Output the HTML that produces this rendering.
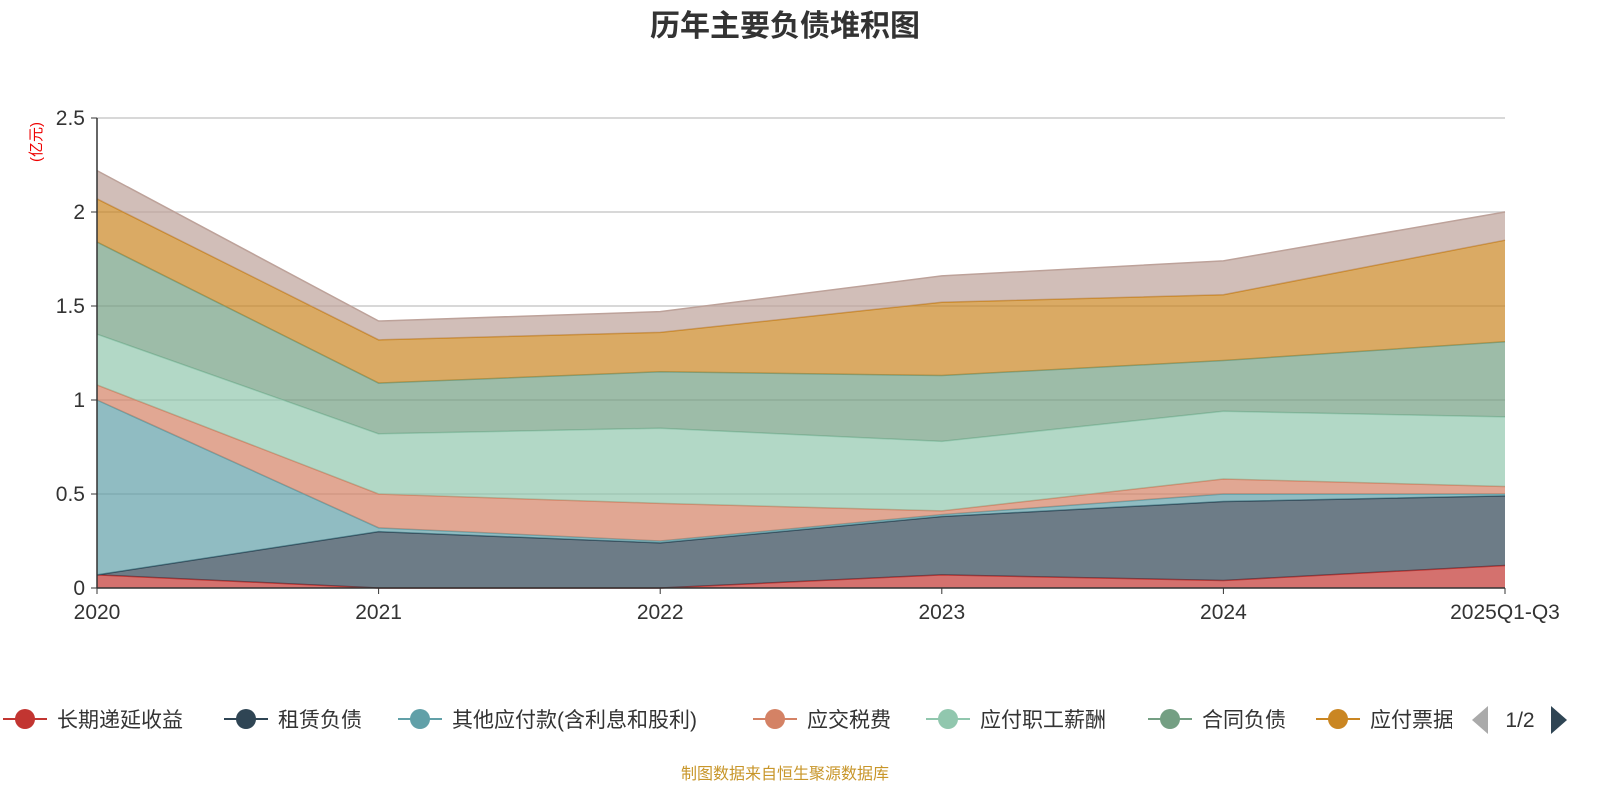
<!DOCTYPE html>
<html><head><meta charset="utf-8"><style>
body{margin:0;background:#fff;width:1600px;height:800px;overflow:hidden;font-family:"Liberation Sans","Noto Sans CJK SC",sans-serif;}
</style></head><body>
<svg id="c" width="1600" height="800" xmlns="http://www.w3.org/2000/svg">
<text x="785" y="36" text-anchor="middle" font-size="30" font-weight="bold" fill="#333" font-family="Liberation Sans, Noto Sans CJK SC, sans-serif">历年主要负债堆积图</text>
<text transform="translate(41,142) rotate(-90)" text-anchor="middle" font-size="15" fill="#e00" font-family="Liberation Sans, Noto Sans CJK SC, sans-serif">(亿元)</text>
<g id="grid"></g><g id="areas"></g><g id="axes"></g><g id="legend"></g>
<text x="785" y="779" text-anchor="middle" font-size="16" fill="#c8962a" font-family="Liberation Sans, Noto Sans CJK SC, sans-serif">制图数据来自恒生聚源数据库</text>
</svg>
<script>
const categories=["2020","2021","2022","2023","2024","2025Q1-Q3"];
const seriesNames=["长期递延收益","租赁负债","其他应付款(含利息和股利)","应交税费","应付职工薪酬","合同负债","应付票据","应付账款"];
const s0=[0.07,0,0,0.07,0.04,0.12];
const s1=[0,0.30,0.24,0.31,0.42,0.37];
const s2=[0.93,0.02,0.01,0.01,0.04,0.01];
const s3=[0.08,0.18,0.20,0.02,0.08,0.04];
const s4=[0.27,0.32,0.40,0.37,0.36,0.37];
const s5=[0.49,0.27,0.30,0.35,0.27,0.40];
const s6=[0.23,0.23,0.21,0.39,0.35,0.54];
const s7=[0.15,0.10,0.11,0.14,0.18,0.15];
const yTicks=[0,0.5,1,1.5,2,2.5];
const series=[s0,s1,s2,s3,s4,s5,s6,s7];
const colors=["#c23531","#2f4554","#61a0a8","#d48265","#91c7ae","#749f83","#ca8622","#bda29a"];
const NS="http://www.w3.org/2000/svg";
const X0=97,X1=1505,Y0=588,Y1=118;
const xs=i=>X0+(X1-X0)*i/(categories.length-1);
const ys=v=>Y0-(Y0-Y1)*v/2.5;
function mk(t,a,p){const e=document.createElementNS(NS,t);for(const k in a)e.setAttribute(k,a[k]);p.appendChild(e);return e;}
const grid=document.getElementById('grid'),areas=document.getElementById('areas'),axes=document.getElementById('axes'),leg=document.getElementById('legend');
yTicks.forEach(v=>{
 if(v>0){const l=mk('line',{x1:X0,x2:X1,y1:ys(v),y2:ys(v),stroke:'#ccc','stroke-width':1.5},grid);
 
 }
 const t=mk('text',{x:X0-12,y:ys(v)+7,'text-anchor':'end','font-size':21,fill:'#333'},axes);t.textContent=v;
 
 
 mk('line',{x1:X0-6,x2:X0,y1:ys(v),y2:ys(v),stroke:'#333'},axes);
});
let base=categories.map(()=>0);
series.forEach((s,k)=>{
 const top=base.map((b,i)=>b+s[i]);
 let d='M'+top.map((v,i)=>xs(i)+','+ys(v)).join(' L');
 for(let i=categories.length-1;i>=0;i--)d+=' L'+xs(i)+','+ys(base[i]);
 const p=mk('path',{d:d+'Z',fill:colors[k],'fill-opacity':0.7,stroke:'none'},areas);
 
 
 const ln=mk('polyline',{points:top.map((v,i)=>xs(i)+','+ys(v)).join(' '),fill:'none',stroke:colors[k],'stroke-width':1.5},areas);
 
 
 base=top;
});
mk('line',{x1:X0,x2:X0,y1:Y1,y2:Y0,stroke:'#333','stroke-width':1.5},axes);
mk('line',{x1:X0,x2:X1,y1:Y0,y2:Y0,stroke:'#333','stroke-width':1.5},axes);
categories.forEach((c,i)=>{
 mk('line',{x1:xs(i),x2:xs(i),y1:Y0,y2:Y0+6,stroke:'#333'},axes);
 const t=mk('text',{x:xs(i),y:Y0+31,'text-anchor':'middle','font-size':21,fill:'#333'},axes);t.textContent=c;
 
 
});
const legX=[27,248,422,777,950,1172,1340];
for(let k=0;k<7;k++){
 const g=mk('g',{},leg);
 
 
 const cx=legX[k];
 mk('line',{x1:cx-24,x2:cx+20,y1:719,y2:719,stroke:colors[k],'stroke-width':2},g);
 mk('circle',{cx:cx-2,cy:719,r:10,fill:colors[k]},g);
 const t=mk('text',{x:cx+30,y:727,'font-size':21,fill:'#333'},g);t.textContent=seriesNames[k];
}
mk('rect',{x:1452,y:700,width:20,height:40,fill:'#fff'},leg);
const pg=mk('g',{},leg);


mk('polygon',{points:'1488,706 1488,734 1472,720',fill:'#aaa'},pg);
const pt=mk('text',{x:1520,y:727,'text-anchor':'middle','font-size':21,fill:'#333'},pg);pt.textContent='1/2';
mk('polygon',{points:'1551,706 1551,734 1567,720',fill:'#2f4554'},pg);
</script>
</body></html>
